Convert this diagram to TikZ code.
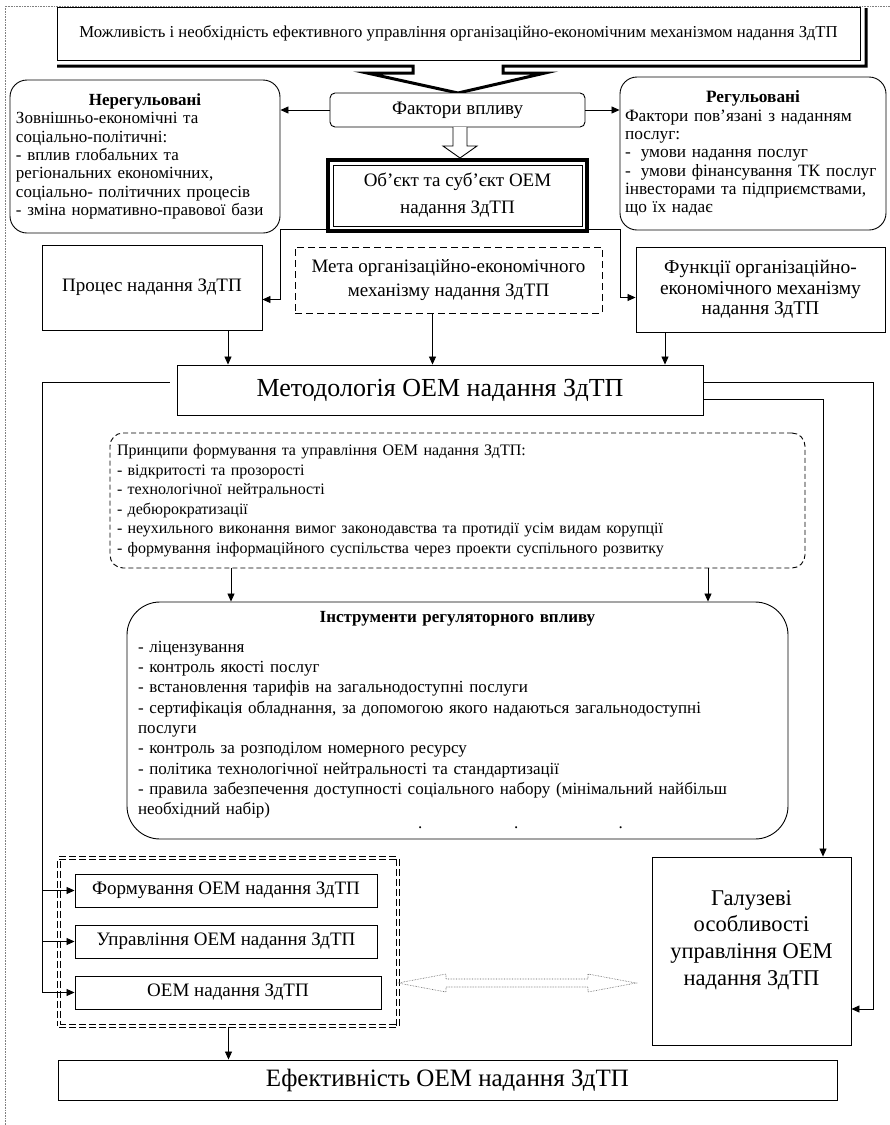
\documentclass[tikz,border=0pt]{standalone}
\usepackage{fontspec}
\setmainfont{Liberation Serif}
\usetikzlibrary{arrows.meta}
\newcommand{\fsz}[2]{\fontsize{#1pt}{#2pt}\selectfont}
\begin{document}
\begin{tikzpicture}[x=1pt,y=-1pt,
  box/.style={draw,line width=0.9pt,fill=white,inner sep=0pt,align=center},
  rbox/.style={box,rounded corners=#1},
  arr/.style={line width=0.8pt,-{Triangle[length=8pt,width=7pt]}},
  ln/.style={line width=0.8pt}]
\useasboundingbox (0,0) rectangle (890,1125);
% page frame
\draw[densely dotted,gray,line width=0.6pt] (5,1125) -- (5,6) -- (890,6);

% top
\node[box,minimum width=803pt,minimum height=53pt,font={\fsz{16.7}{20}}] (top) at (458.5,33.5) {Можливість і необхідність ефективного управління організаційно-економічним механізмом надання ЗдТП};
\draw[line width=3pt] (57,66) -- (413,66) -- (413,73) -- (367,73) -- (458,93) -- (545,73) -- (503,73) -- (503,66) -- (866,66) -- (866,8);

% factors
\node[rbox=5pt,minimum width=255pt,minimum height=34pt,font={\fsz{19}{22}}] (fact) at (457.5,110) {Фактори впливу};
\node[rbox=17pt,minimum width=270pt,minimum height=153pt,text width=258pt,inner xsep=6pt,align=left,font={\fsz{17}{18.3}}] (nereg) at (145,156.5) {\makebox[258pt]{\textbf{Нерегульовані}}\\ Зовнішньо-економічні та\\ соціально-політичні:\\ - вплив глобальних та\\ регіональних економічних,\\ соціально- політичних процесів\\ - зміна нормативно-правової бази};
\node[rbox=17pt,minimum width=266pt,minimum height=153pt,text width=256pt,inner xsep=5pt,align=left,font={\fsz{17.3}{18.3}}] (reg) at (753,153.5) {\makebox[256pt]{\textbf{Регульовані}}\\ Фактори пов’язані з наданням\\ послуг:\\ -\hspace{10pt}умови надання послуг\\ -\hspace{10pt}умови фінансування ТК послуг\\ інвесторами та підприємствами,\\ що їх надає};
\draw[arr] (fact.west) -- (fact.west -| nereg.east);
\draw[arr] (fact.east) -- (fact.east -| reg.west);

% object
\coordinate (objl) at (280,229);
\coordinate (objr) at (620,229);
\draw[ln] (objl) -- (objr);
\node[box,line width=4pt,minimum width=259pt,minimum height=71pt,font={\fsz{19}{27}}] (obj) at (457.5,195.5) {Об’єкт та суб’єкт ОЕМ\\надання ЗдТП};
\draw[line width=0.8pt] ([shift={(7,7)}]obj.north west) rectangle ([shift={(-7,-7)}]obj.south east);
\draw[line width=0.9pt,fill=white] (453,127) -- (453,146) -- (443,146) -- (460,158) -- (477,146) -- (467,146) -- (467,127);

\node[box,minimum width=220pt,minimum height=85pt,font={\fsz{19}{22}}] (proc) at (152,287.5) {Процес надання ЗдТП};
\node[box,dash pattern=on 7pt off 4pt,minimum width=307pt,minimum height=66pt,font={\fsz{19}{24}}] (meta) at (448.5,280) {Мета організаційно-економічного\\механізму надання ЗдТП};
\node[box,minimum width=249pt,minimum height=85pt,font={\fsz{19.5}{20.5}}] (func) at (760.5,289.5) {Функції організаційно-\\економічного механізму\\надання ЗдТП};
\draw[arr] (objl) |- ([yshift=-12pt]proc.east);
\draw[arr] (objr) |- ([yshift=-8pt]func.west);

% methodology
\node[box,minimum width=526pt,minimum height=50pt,font={\fsz{26}{30}}] (method) at (440,390) {Методологія ОЕМ надання ЗдТП};
\draw[arr] ([xshift=76pt]proc.south) -- ([xshift=76pt]proc.south |- method.north);
\draw[arr] ([xshift=-16pt]meta.south) -- ([xshift=-16pt]meta.south |- method.north);
\draw[arr] ([xshift=-95.5pt]func.south) -- ([xshift=-95.5pt]func.south |- method.north);

\node[rbox=13pt,dash pattern=on 5pt off 3pt,minimum width=695pt,minimum height=135pt,text width=681pt,inner xsep=7pt,align=left,font={\fsz{16}{19.5}}] (princ) at (457.5,500.5) {Принципи формування та управління ОЕМ надання ЗдТП:\\ - відкритості та прозорості\\ - технологічної нейтральності\\ - дебюрократизації\\ - неухильного виконання вимог законодавства та протидії усім видам корупції\\ - формування інформаційного суспільства через проекти суспільного розвитку};

\node[rbox=33pt,minimum width=661pt,minimum height=237pt,text width=639pt,inner xsep=11pt,align=left,font={\fsz{17}{20.3}}] (instr) at (457.5,720.5) {\makebox[639pt]{\textbf{Інструменти регуляторного впливу}}\\[9pt] - ліцензування\\ - контроль якості послуг\\ - встановлення тарифів на загальнодоступні послуги\\ - сертифікація обладнання, за допомогою якого надаються загальнодоступні\\ послуги\\ - контроль за розподілом номерного ресурсу\\ - політика технологічної нейтральності та стандартизації\\ - правила забезпечення доступності соціального набору (мінімальний найбільш\\ необхідний набір)\\[-6pt] \hspace*{280pt}.\hspace{92pt}.\hspace{100pt}.};
\draw[arr] ([xshift=-226.5pt]princ.south) -- ([xshift=-226.5pt]princ.south |- instr.north);
\draw[arr] ([xshift=250.5pt]princ.south) -- ([xshift=250.5pt]princ.south |- instr.north);

% bottom
\node[draw,dash pattern=on 7pt off 3pt,double,double distance=2pt,line width=0.8pt,minimum width=339.4pt,minimum height=168.4pt] (grp) at (228.5,942) {};
\node[box,minimum width=302pt,minimum height=33pt,font={\fsz{19}{22}}] (form) at (226,890.5) {Формування ОЕМ надання ЗдТП};
\node[box,minimum width=302pt,minimum height=33pt,font={\fsz{19}{22}}] (manag) at (226,941.5) {Управління ОЕМ надання ЗдТП};
\node[box,minimum width=306pt,minimum height=33pt,font={\fsz{19}{22}}] (oem) at (228,992.5) {ОЕМ надання ЗдТП};
\node[box,minimum width=199pt,minimum height=188pt,font={\fsz{22.5}{26.7}}] (galuz) at (751.5,951) {Галузеві\\особливості\\управління ОЕМ\\надання ЗдТП\\\mbox{}};
\node[box,minimum width=779pt,minimum height=40pt,font={\fsz{25}{28}}] (eff) at (447.5,1080) {Ефективність ОЕМ надання ЗдТП};

\coordinate (lbus) at (42,382);
\coordinate (rbus) at (873,382);
\draw[arr,shorten <=7pt] ([yshift=8pt]method.west) -- (lbus) |- (oem.west);
\draw[arr] (lbus |- form.west) -- (form.west);
\draw[arr] (lbus |- manag.west) -- (manag.west);
\draw[arr] ([yshift=8pt]method.east) -- (rbus) |- ([yshift=-58pt]galuz.east);
\draw[arr] ([yshift=-9pt]method.east) -| ([xshift=71.5pt]galuz.north);
\draw[arr] (grp.south) -- (grp.south |- eff.north);
\draw[densely dotted,line width=0.6pt,gray!70!black] (398,983) -- (446,974) -- (446,979) -- (588,979) -- (588,974) -- (636,983) -- (588,992) -- (588,987) -- (446,987) -- (446,992) -- cycle;
\end{tikzpicture}
\end{document}
